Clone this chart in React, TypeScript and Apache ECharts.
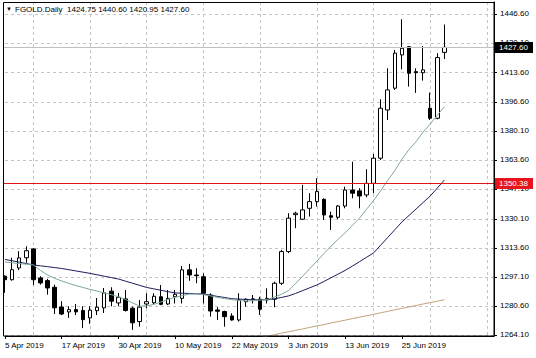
import React, { useEffect, useRef } from "react";
import * as echarts from "echarts";

const dates = [
  "5 Apr 2019", "8 Apr 2019", "9 Apr 2019", "10 Apr 2019", "11 Apr 2019", "12 Apr 2019", "15 Apr 2019", "16 Apr 2019",
  "17 Apr 2019", "18 Apr 2019", "22 Apr 2019", "23 Apr 2019", "24 Apr 2019", "25 Apr 2019", "26 Apr 2019", "29 Apr 2019",
  "30 Apr 2019", "1 May 2019", "2 May 2019", "3 May 2019", "6 May 2019", "7 May 2019", "8 May 2019", "9 May 2019",
  "10 May 2019", "13 May 2019", "14 May 2019", "15 May 2019", "16 May 2019", "17 May 2019", "20 May 2019", "21 May 2019",
  "22 May 2019", "23 May 2019", "24 May 2019", "27 May 2019", "28 May 2019", "29 May 2019", "30 May 2019", "31 May 2019",
  "3 Jun 2019", "4 Jun 2019", "5 Jun 2019", "6 Jun 2019", "7 Jun 2019", "10 Jun 2019", "11 Jun 2019", "12 Jun 2019",
  "13 Jun 2019", "14 Jun 2019", "17 Jun 2019", "18 Jun 2019", "19 Jun 2019", "20 Jun 2019", "21 Jun 2019", "24 Jun 2019",
  "25 Jun 2019", "26 Jun 2019", "27 Jun 2019", "28 Jun 2019", "1 Jul 2019", "2 Jul 2019", "3 Jul 2019",
];

const open = [
  1297.5, 1295.5, 1302.2, 1308, 1313, 1296.5, 1295, 1291.2, 1280, 1277.2, 1278.5, 1278, 1273.8, 1277.9, 1279.5, 1289,
  1282.3, 1284.6, 1279.3, 1271.7, 1281.7, 1282.4, 1285.8, 1281.7, 1285.8, 1284.9, 1301.1, 1298.2, 1297.2, 1286.8, 1278.3, 1277.4,
  1274.9, 1272.6, 1283, 1284.4, 1284.4, 1284, 1284.4, 1293.5, 1311.5, 1332.5, 1329.9, 1336.1, 1339.9, 1341.2, 1331.9, 1331,
  1337.4, 1346.5, 1346, 1343.7, 1350.3, 1364.6, 1392, 1404.4, 1423.3, 1428, 1413.8, 1413.2, 1393, 1387.3, 1424.75,
];
const high = [
  1298, 1308, 1311.7, 1314.5, 1313.5, 1297.5, 1296, 1292.7, 1283.3, 1280.4, 1281.7, 1280.4, 1280.4, 1285.1, 1290.8, 1291.2,
  1288, 1289.7, 1280.2, 1284, 1287.8, 1287.8, 1292.5, 1289.7, 1289.7, 1303.3, 1304.5, 1302, 1299.1, 1287.8, 1279.9, 1277.9,
  1276.4, 1287.8, 1284.9, 1286.8, 1285.8, 1290.6, 1294.4, 1312.5, 1333.3, 1334.2, 1349.4, 1344.7, 1353.2, 1341.8, 1334.2, 1338,
  1348.4, 1362.6, 1347.5, 1358.3, 1367, 1398.1, 1415.7, 1426.1, 1443.6, 1428.4, 1415.7, 1428.4, 1401.9, 1424.3, 1440.6,
];
const low = [
  1288, 1295, 1301, 1305.1, 1292.5, 1292.7, 1287, 1276, 1275.4, 1273.8, 1275.4, 1268, 1270.4, 1275.4, 1276.6, 1280.4,
  1280.4, 1277.4, 1267, 1268.8, 1279.3, 1281.7, 1281, 1281.1, 1282, 1282, 1294.9, 1293.5, 1282, 1274.5, 1272.6, 1268.8,
  1272.2, 1271.7, 1280.2, 1282, 1275.5, 1282, 1279.9, 1292.5, 1310.6, 1324.8, 1329.5, 1331.4, 1337.1, 1329.5, 1323.8, 1329.9,
  1336.1, 1341.8, 1336.1, 1342.4, 1344.7, 1363.6, 1386.3, 1403.4, 1415.1, 1405.3, 1401.7, 1408.7, 1386.3, 1386.7, 1420.95,
];
const close = [
  1295.5, 1301.2, 1307.9, 1312, 1295.5, 1293.7, 1290.8, 1279.5, 1276, 1278.5, 1277.2, 1272.8, 1278.2, 1279.9, 1288, 1283.3,
  1285.5, 1278, 1271, 1279.9, 1283, 1286.1, 1281.5, 1284.9, 1287.2, 1301.1, 1298.2, 1297.8, 1287.8, 1277.7, 1277.6, 1274.5,
  1272.6, 1284, 1284.4, 1284.6, 1278.7, 1284.9, 1293.5, 1311.5, 1330.5, 1333.3, 1335.2, 1339.9, 1345.6, 1332.3, 1331, 1337.4,
  1346.5, 1344.7, 1343.1, 1350.3, 1364.6, 1393, 1403.4, 1424.3, 1427.1, 1412.9, 1413.2, 1414.8, 1387.3, 1421.8, 1427.6,
];

const maFast = [
  1305.6, 1305.1, 1304.7, 1304.3, 1303.9, 1300.8, 1298.2, 1296.3, 1294.8, 1293.4, 1292.2, 1291.1, 1290.0, 1289.0, 1288.0, 1287.0,
  1285.8, 1284.3, 1282.3, 1280.5, 1280.6, 1281.5, 1282.8, 1284.3, 1285.5, 1286.5, 1287.3, 1287.4, 1287.0, 1286.3, 1285.4, 1284.8,
  1284.2, 1283.7, 1283.4, 1283.5, 1283.9, 1284.2, 1285.6, 1287.2, 1289.3, 1293.3, 1297.5, 1301.8, 1306.0, 1310.4, 1314.6, 1318.5,
  1322.2, 1326.3, 1330.4, 1335.5, 1340.5, 1346.0, 1352.0, 1357.5, 1364.0, 1369.5, 1374.0, 1379.5, 1384.0, 1389.0, 1393.9,
];
const maMid = [
  1307.0, 1306.3, 1305.5, 1304.7, 1303.9, 1303.4, 1302.9, 1302.4, 1301.9, 1301.2, 1300.5, 1299.8, 1299.1, 1298.3, 1297.5, 1296.7,
  1295.9, 1294.7, 1293.5, 1292.3, 1291.1, 1290.3, 1289.5, 1288.7, 1288.0, 1287.8, 1287.7, 1287.5, 1287.4, 1286.7, 1286.0, 1285.4,
  1284.7, 1284.5, 1284.3, 1284.1, 1284.0, 1284.2, 1284.6, 1285.4, 1286.3, 1287.7, 1289.3, 1290.9, 1292.5, 1294.5, 1296.6, 1298.7,
  1300.8, 1303.2, 1305.7, 1308.2, 1310.7, 1315.1, 1319.5, 1323.9, 1328.3, 1332.0, 1335.7, 1339.4, 1343.1, 1347.6, 1352.2,
];
const maSlow = [
  null, null, null, null, null, null, null, null, null, null, null, null, null, null, null, null,
  null, null, null, null, null, null, null, null, null, null, null, null, 1255.9, 1256.8, 1257.6, 1258.5,
  1259.3, 1260.1, 1260.9, 1261.8, 1262.6, 1263.4, 1264.2, 1265.1, 1265.9, 1266.7, 1267.5, 1268.4, 1269.2, 1270.0, 1270.9, 1271.7,
  1272.5, 1273.4, 1274.2, 1275.0, 1275.8, 1276.7, 1277.5, 1278.4, 1279.2, 1280.0, 1280.8, 1281.7, 1282.5, 1283.3, 1284.1,
];

const priceTicks = [1264.1, 1280.6, 1297.1, 1313.6, 1330.1, 1347.1, 1363.6, 1380.1, 1396.6, 1413.6, 1430.1, 1446.6];
const symbolName = "FGOLD.Daily";
const redLevel = 1350.38;

const FONT = "'Liberation Sans', Arial, sans-serif";
const PLOT_LEFT = 3.5;
const PLOT_RIGHT = 494;

export default function App() {
  const ref = useRef<HTMLDivElement>(null);
  useEffect(() => {
    document.body.style.margin = "0";
    const chart = echarts.init(ref.current!, null, { renderer: "svg" });
    const last = close.length - 1;
    const bid = close[last];
    const header = `${symbolName}  ${open[last].toFixed(2)} ${high[last].toFixed(2)} ${low[last].toFixed(2)} ${close[last].toFixed(2)}`;
    const candleData = open.map((o, i) => [o, close[i], low[i], high[i]]);
    const labelShown = (i: number) => i % 8 === 0 && i < dates.length;

    chart.setOption({
      animation: false,
      backgroundColor: "#ffffff",
      grid: { left: 5, right: 42, top: 2, bottom: 22, show: false },
      xAxis: {
        type: "category",
        data: dates,
        boundaryGap: false,
        max: 69,
        axisLine: { show: true, lineStyle: { color: "#000", width: 1 } },
        axisTick: { show: true, interval: (i: number) => labelShown(i), length: 3, lineStyle: { color: "#000" } },
        axisLabel: {
          interval: (i: number) => labelShown(i),
          align: "left",
          margin: 5,
          fontSize: 8,
          color: "#000",
          fontFamily: FONT,
        },
        splitLine: { show: true, interval: (i: number) => i % 8 === 4, lineStyle: { color: "#c4c4c4", type: [3, 3], width: 1 } },
      },
      yAxis: {
        type: "value",
        position: "right",
        min: 1263.5,
        max: 1453.4,
        axisLine: { show: true, lineStyle: { color: "#000", width: 1 } },
        axisTick: { show: true, length: 3, customValues: priceTicks, lineStyle: { color: "#000" } },
        axisLabel: {
          customValues: priceTicks,
          formatter: (v: number) => v.toFixed(2),
          margin: 6,
          fontSize: 8,
          color: "#000",
          fontFamily: FONT,
        },
        splitLine: { show: true, lineStyle: { color: "#c4c4c4", type: [3, 3], width: 1 } },
      },
      series: [
        {
          type: "candlestick",
          data: candleData,
          barWidth: 4,
          itemStyle: {
            color: "#ffffff",
            color0: "#000000",
            borderColor: "#000000",
            borderColor0: "#000000",
            borderWidth: 1,
          },
        },
        {
          type: "line",
          data: maSlow,
          symbol: "none",
          lineStyle: { color: "#c2a27c", width: 1 },
          z: 3,
        },
        {
          type: "line",
          data: maMid,
          symbol: "none",
          color: "#1c1c5c",
          lineStyle: { color: "#1c1c5c", width: 1 },
          z: 3,
        },
        {
          type: "line",
          data: maFast,
          symbol: "none",
          color: "#7fa898",
          lineStyle: { color: "#7fa898", width: 1 },
          z: 3,
        },
      ],
    });

    const levelElements = (id: string, value: number, lineColor: string, boxColor: string) => {
      const y = Math.round(chart.convertToPixel({ yAxisIndex: 0 }, value) as number) + 0.5;
      return [
        {
          id: id + "-line",
          type: "line",
          silent: true,
          z: 50,
          shape: { x1: PLOT_LEFT, y1: y, x2: PLOT_RIGHT, y2: y },
          style: { stroke: lineColor, lineWidth: 1 },
        },
        {
          id: id + "-box",
          type: "rect",
          silent: true,
          z: 60,
          shape: { x: 495, y: y - 5.5, width: 38, height: 11 },
          style: { fill: boxColor },
        },
        {
          id: id + "-text",
          type: "text",
          silent: true,
          z: 61,
          x: 499,
          y: y,
          style: { text: value.toFixed(2), fontSize: 8, fill: "#fff", fontFamily: FONT, verticalAlign: "middle" },
        },
      ];
    };

    chart.setOption({
      graphic: [
        {
          id: "frame",
          type: "rect",
          silent: true,
          z: 100,
          shape: { x: 3.5, y: 2.5, width: 490.5, height: 333.5 },
          style: { fill: "none", stroke: "#000", lineWidth: 1 },
        },
        {
          id: "arrow",
          type: "text",
          silent: true,
          z: 101,
          x: 6,
          y: 9,
          style: { text: "▼", fontSize: 6, fill: "#000", fontFamily: FONT, verticalAlign: "middle" },
        },
        {
          id: "header",
          type: "text",
          silent: true,
          z: 101,
          x: 15,
          y: 9,
          style: { text: header, fontSize: 8, fill: "#000", fontFamily: FONT, verticalAlign: "middle" },
        },
        ...levelElements("bid", bid, "#c0c0c0", "#000000"),
        ...levelElements("red", redLevel, "#e01414", "#e8141c"),
      ],
    });
    return () => chart.dispose();
  }, []);
  return <div ref={ref} style={{ position: "absolute", left: 0, top: 0, width: 536, height: 358 }} />;
}
